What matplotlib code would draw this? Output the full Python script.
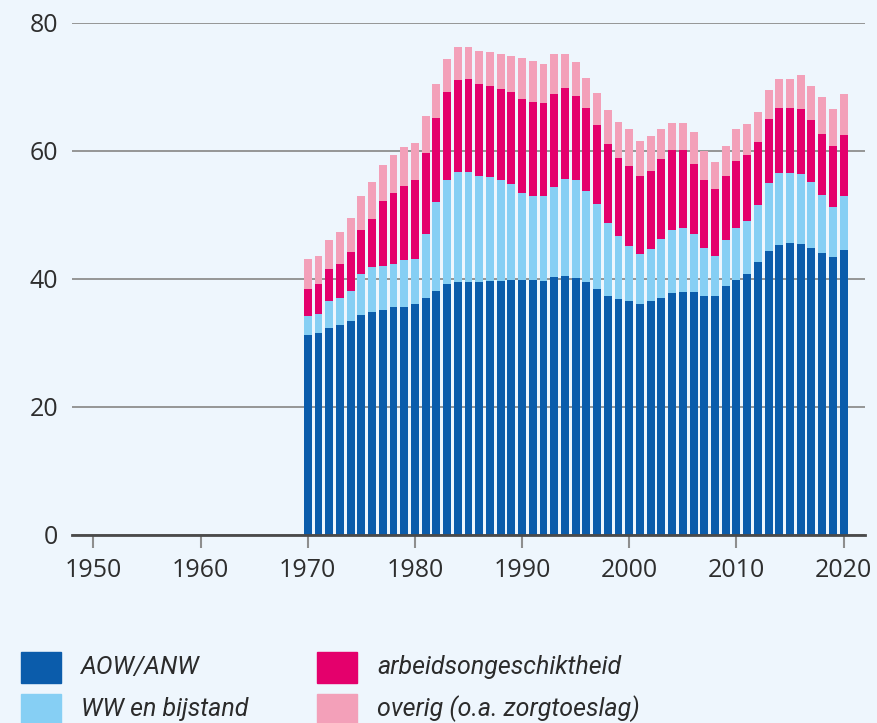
import matplotlib
matplotlib.use("Agg")
import matplotlib.pyplot as plt
import numpy as np
from matplotlib.patches import Rectangle

years = list(range(1970, 2021))
aow_anw = [31.3, 31.6, 32.3, 32.8, 33.5, 34.3, 34.8, 35.2, 35.7, 35.7,
           36.1, 37.0, 38.2, 39.2, 39.5, 39.6, 39.6, 39.7, 39.7, 39.8,
           39.9, 39.9, 39.7, 40.3, 40.4, 40.1, 39.5, 38.5, 37.4, 36.9,
           36.6, 36.1, 36.5, 37.1, 37.8, 38.0, 38.0, 37.4, 37.4, 38.9,
           39.9, 40.8, 42.7, 44.4, 45.3, 45.7, 45.5, 44.8, 44.1, 43.4, 44.6]
ww_bijstand = [2.9, 2.9, 4.3, 4.3, 4.7, 6.5, 7.0, 6.8, 6.6, 7.2,
               7.0, 10.0, 13.8, 16.2, 17.2, 17.1, 16.5, 16.2, 15.7, 15.0,
               13.6, 13.1, 13.3, 14.0, 15.2, 15.3, 14.3, 13.2, 11.3, 9.8,
               8.6, 7.8, 8.2, 9.2, 9.9, 10.0, 9.0, 7.5, 6.2, 7.2,
               8.0, 8.3, 8.8, 10.6, 11.3, 10.9, 10.9, 10.4, 9.0, 7.8, 8.3]
arbeidsong = [4.2, 4.7, 4.9, 5.3, 6.0, 6.8, 7.6, 10.2, 11.2, 11.7,
              12.4, 12.7, 13.1, 13.8, 14.4, 14.6, 14.4, 14.2, 14.3, 14.4,
              14.6, 14.7, 14.5, 14.6, 14.3, 13.2, 12.9, 12.4, 12.4, 12.2,
              12.4, 12.2, 12.2, 12.5, 12.4, 12.1, 11.0, 10.5, 10.4, 10.0,
              10.6, 10.3, 9.9, 10.0, 10.1, 10.1, 10.2, 9.7, 9.6, 9.6, 9.6]
overig = [4.7, 4.4, 4.6, 5.0, 5.4, 5.4, 5.7, 5.6, 5.8, 6.0,
          5.8, 5.7, 5.4, 5.2, 5.1, 4.9, 5.2, 5.3, 5.5, 5.7,
          6.4, 6.4, 6.1, 6.3, 5.3, 5.3, 4.7, 5.0, 5.3, 5.7,
          5.9, 5.5, 5.5, 4.7, 4.2, 4.2, 4.9, 4.6, 4.3, 4.7,
          4.9, 4.8, 4.7, 4.5, 4.6, 4.6, 5.2, 5.2, 5.7, 5.8, 6.4]

labels = ["AOW/ANW", "WW en bijstand", "arbeidsongeschiktheid", "overig (o.a. zorgtoeslag)"]
colors = ["#0b5cab", "#86cff4", "#e4006c", "#f3a0b9"]
xticks = [1950, 1960, 1970, 1980, 1990, 2000, 2010, 2020]
yticks = [0, 20, 40, 60, 80]

bg = "#eef6fd"
fig = plt.figure(figsize=(8.78, 7.23), dpi=100, facecolor=bg)
ax = fig.add_axes([72 / 878, 1 - 535 / 723, (865 - 72) / 878, (535 - 23) / 723])
ax.set_facecolor(bg)

series = [aow_anw, ww_bijstand, arbeidsong, overig]
bottom = np.zeros(len(years))
for vals, col in zip(series, colors):
    ax.bar(years, vals, bottom=bottom, width=0.74, color=col, zorder=2, linewidth=0)
    bottom += np.array(vals)

ax.set_xlim(1948, 2022)
ax.set_ylim(0, 80)
ax.set_yticks(yticks)
ax.set_xticks(xticks)
ax.grid(axis="y", color="#8e8e8e", linewidth=1.3, zorder=1)
ax.set_axisbelow(True)
for s in ["top", "right", "left"]:
    ax.spines[s].set_visible(False)
ax.spines["bottom"].set_color("#4a4a4a")
ax.spines["bottom"].set_linewidth(2)
ax.spines["bottom"].set_zorder(3)

ax.tick_params(axis="y", length=0, pad=10, labelcolor="#2e2e2e")
ax.tick_params(axis="x", length=9.5, width=1.5, color="#8e8e8e", pad=7, labelcolor="#2e2e2e")
for lab in ax.get_xticklabels() + ax.get_yticklabels():
    lab.set_fontfamily(["Open Sans", "DejaVu Sans"])
    lab.set_fontsize(18)

# legend, drawn by hand in figure pixels
W, H = 878, 723
positions = [(21, 652), (21, 694), (317, 652), (317, 694)]
for (px, py), lab, col in zip(positions, labels, colors):
    fig.patches.append(Rectangle((px / W, 1 - (py + 31) / H), 40 / W, 31 / H,
                                 transform=fig.transFigure, color=col))
    fig.text((px + 60) / W, 1 - (py + 15) / H, lab, fontsize=18, style="italic",
             family=["Roboto", "DejaVu Sans"], color="#2b2b2b", va="center", ha="left")

fig.savefig("out.png", dpi=100, facecolor=bg)
